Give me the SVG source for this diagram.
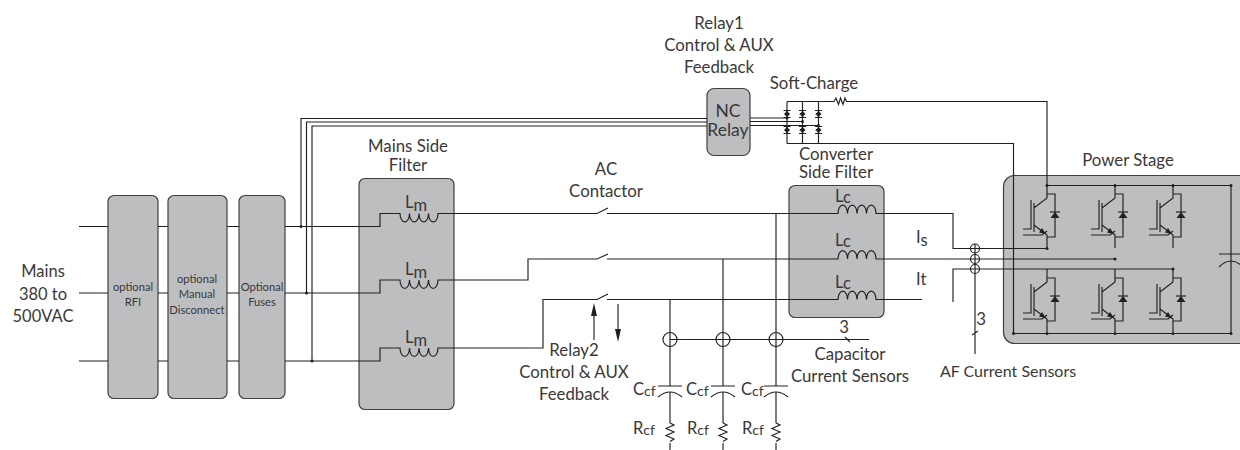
<svg xmlns="http://www.w3.org/2000/svg" xmlns:xlink="http://www.w3.org/1999/xlink" width="1240" height="450" viewBox="0 0 1240 450">
<style>
text{font-family:Lato,"Open Sans","Liberation Sans",sans-serif;font-size:16.800px;fill:#3a3839;text-anchor:middle}
.st{text-anchor:start;font-size:16.500px}
.sb{font-size:14px}
.sm{font-size:11.200px}
.mn{font-size:16.500px}
.big{font-size:17.500px}
.af{font-size:16px}
.box{fill:#bcbec0;stroke:#414042;stroke-width:1.200}
.w{fill:none;stroke:#231f20;stroke-width:1.150}
.d{fill:#231f20}
</style>
<defs>
<path id="lm" class="w" d="M0,0h1a4.5,8 0 0 0 9.5,0a4.5,8 0 0 0 9.5,0a4.5,8 0 0 0 9.5,0a4.5,8 0 0 0 9.5,0h1"/>
<path id="lc" class="w" d="M0,0h1a4.5,8 0 0 1 9.5,0a4.5,8 0 0 1 9.5,0a4.5,8 0 0 1 9.5,0a4.5,8 0 0 1 9.5,0h1"/>
<g id="cap"><path class="w" d="M-12,0H12M-12,11Q0,1 12,11"/></g>
<path id="res" class="w" d="M0,0l4,2l-8,3.500l8,3.500l-8,3.500l8,3.500l-4,2.500"/>
<g id="sd"><path class="w" d="M-3.500,-3.500H3.500M-3.500,3.500H3.500"/><path class="d" d="M0,-3.500L3,0.500H-3Z"/><path class="d" d="M0,3.500L3,-0.500H-3Z"/></g>
<g id="igbt">
<path class="w" d="M0,0V9H8V52H0M0,9V13L-13,23M-13,18V47M-16,15V44H-24M-13,40L0,50V63M-24,50H-5L0,46"/>
<path class="d" d="M-1,49L-8,47.500L-5,43Z"/>
<path class="w" d="M3,27H13"/><path class="d" d="M8,27L12.500,33H3.500Z"/>
</g>
</defs>

<g id="power-stage"><rect class="box" x="1003.500" y="175.500" width="260" height="168" rx="11"/><text x="1128" y="166">Power Stage</text></g>
<g id="rfi"><rect class="box" x="108" y="195.500" width="50" height="203" rx="6"/><text class="sm" x="133" y="291">optional</text><text class="sm" x="133" y="306">RFI</text></g>
<g id="disconnect"><rect class="box" x="168" y="195.500" width="59" height="203" rx="6"/><text class="sm" x="197" y="283">optional</text><text class="sm" x="197" y="298">Manual</text><text class="sm" x="197" y="314">Disconnect</text></g>
<g id="fuses"><rect class="box" x="239" y="195.500" width="46" height="203" rx="6"/><text class="sm" x="262" y="291">Optional</text><text class="sm" x="262" y="306">Fuses</text></g>
<g id="mains-filter"><rect class="box" x="359" y="178.500" width="95" height="231" rx="6"/><text x="408" y="152">Mains Side</text><text x="408" y="171">Filter</text></g>
<g id="converter-filter"><rect class="box" x="789" y="185.500" width="95" height="132" rx="6"/><text x="836" y="160">Converter</text><text x="836" y="178">Side Filter</text></g>
<g id="nc-relay"><rect class="box" x="707" y="88.500" width="43" height="67" rx="7"/><text class="big" x="728" y="117">NC</text><text class="big" x="728" y="136">Relay</text></g>

<g id="connectors">
<path class="w" d="M79,226.500H108M158,226.500H168M227,226.500H239M285,226.500H380V213.500H399M79,293H108M158,293H168M227,293H239M285,293H380V280H399M79,361H108M158,361H168M227,361H239M285,361H380V348H399"/>
<path class="w" d="M301,226V118.500H707M306.500,293V122H707M312,361V126H707"/>
<path class="w" d="M750,118H787M750,121.500H802M750,125.500H818"/>
<path class="w" d="M787,101.500V143.500M802.500,101.500V143.500M818.500,101.500V143.500M787,101.500H834L836,98L838.500,104.500L840.500,98L843,104.500L845,98L846.500,101.500H1047V185M787,143.500H1013.500V333"/>
<use href="#lm" x="399" y="213.500"/><use href="#lm" x="399" y="280"/><use href="#lm" x="399" y="348"/>
<path class="w" d="M439,213.500H597L608,208M607,213.500H837M439,280H528V259H597L608,254M607,259H837M439,348H543V299.500H597L608,294M607,299.500H837"/>
<use href="#lc" x="837" y="213.500"/><use href="#lc" x="837" y="259"/><use href="#lc" x="837" y="299.500"/>
<path class="w" d="M877,213.500H953V248.500H1047M877,259H1115M877,299.500H922M953,302V269H1173"/>
<path class="w" d="M670,299.500V386M670,392V423M670,443V450M723,259V386M723,392V423M723,443V450M776,213.500V386M776,392V423M776,443V450"/>
<path class="w" d="M670,339.500H869M845,337L850,342"/>
<circle class="w" cx="670" cy="339.500" r="7"/><circle class="w" cx="723" cy="339.500" r="7"/><circle class="w" cx="776" cy="339.500" r="7"/>
<use href="#cap" x="670" y="386"/><use href="#cap" x="723" y="386"/><use href="#cap" x="776" y="386"/>
<use href="#res" x="670" y="423"/><use href="#res" x="723" y="423"/><use href="#res" x="776" y="423"/>
<path class="w" d="M594,340V315M618,304V330"/>
<path class="d" d="M594,303L597,316H591ZM618,342L615,329H621Z"/>
<path class="w" d="M975,244V354M972,335L978,331"/>
<circle class="w" cx="975" cy="248.500" r="4.500"/><circle class="w" cx="975" cy="259" r="4.500"/><circle class="w" cx="975" cy="269" r="4.500"/>
<path class="w" d="M1047,185.500H1231V333.500H1013M1231,185V254M1231,261V333M1219,254H1243M1219,267Q1231,255 1243,267"/>
<use href="#igbt" x="1047" y="185"/><use href="#igbt" x="1115" y="185"/><use href="#igbt" x="1173" y="185"/>
<use href="#igbt" x="1047" y="269"/><use href="#igbt" x="1115" y="269"/><use href="#igbt" x="1173" y="269"/>
<use href="#sd" x="787" y="114"/><use href="#sd" x="802.500" y="114"/><use href="#sd" x="818.500" y="114"/>
<use href="#sd" x="787" y="130"/><use href="#sd" x="802.500" y="130"/><use href="#sd" x="818.500" y="130"/>
<g class="d">
<circle cx="301" cy="226.500" r="1.500"/><circle cx="306.500" cy="293" r="1.500"/><circle cx="312" cy="361" r="1.500"/>
<circle cx="787" cy="118" r="1.500"/><circle cx="802.500" cy="121.500" r="1.500"/><circle cx="818.500" cy="125.500" r="1.500"/>
<circle cx="1047" cy="185.500" r="1.500"/><circle cx="1115" cy="185.500" r="1.500"/><circle cx="1173" cy="185.500" r="1.500"/><circle cx="1231" cy="185.500" r="1.500"/>
<circle cx="1013.500" cy="333.500" r="1.500"/><circle cx="1047" cy="333.500" r="1.500"/><circle cx="1115" cy="333.500" r="1.500"/><circle cx="1173" cy="333.500" r="1.500"/><circle cx="1231" cy="333.500" r="1.500"/>
<circle cx="1047" cy="248.500" r="1.500"/><circle cx="1115" cy="259" r="1.500"/><circle cx="1173" cy="269" r="1.500"/>
</g>
</g>

<g id="labels">
<text class="mn" x="43" y="277">Mains</text><text class="mn" x="43" y="300">380 to</text><text class="mn" x="43" y="322">500VAC</text>
<text x="719" y="29">Relay1</text><text x="719" y="51">Control &amp; AUX</text><text x="719" y="73">Feedback</text>
<text x="814" y="89">Soft-Charge</text>
<text x="606" y="175">AC</text><text x="606" y="197">Contactor</text>
<text x="574" y="356">Relay2</text><text x="574" y="378">Control &amp; AUX</text><text x="574" y="400">Feedback</text>
<text x="850" y="360">Capacitor</text><text x="850" y="382">Current Sensors</text>
<text class="af" x="1008" y="377">AF Current Sensors</text>
<text x="844" y="333">3</text><text x="981" y="325">3</text>
<text class="st" x="405" y="208">L<tspan dy="3">m</tspan></text><text class="st" x="405" y="275">L<tspan dy="3">m</tspan></text><text class="st" x="405" y="343">L<tspan dy="3">m</tspan></text>
<text class="st" x="835" y="202">L<tspan dy="1">c</tspan></text><text class="st" x="835" y="246">L<tspan dy="1">c</tspan></text><text class="st" x="835" y="288">L<tspan dy="1">c</tspan></text>
<text class="st" x="916" y="243">I<tspan dy="3">s</tspan></text><text class="st" x="916" y="285">I<tspan dy="0">t</tspan></text>
<text class="st" x="633" y="395">C<tspan class="sb" dy="1">cf</tspan></text><text class="st" x="686" y="395">C<tspan class="sb" dy="1">cf</tspan></text><text class="st" x="741" y="395">C<tspan class="sb" dy="1">cf</tspan></text>
<text class="st" x="633" y="434">R<tspan class="sb" dy="1">cf</tspan></text><text class="st" x="687" y="434">R<tspan class="sb" dy="1">cf</tspan></text><text class="st" x="742" y="434">R<tspan class="sb" dy="1">cf</tspan></text>
</g>
</svg>
